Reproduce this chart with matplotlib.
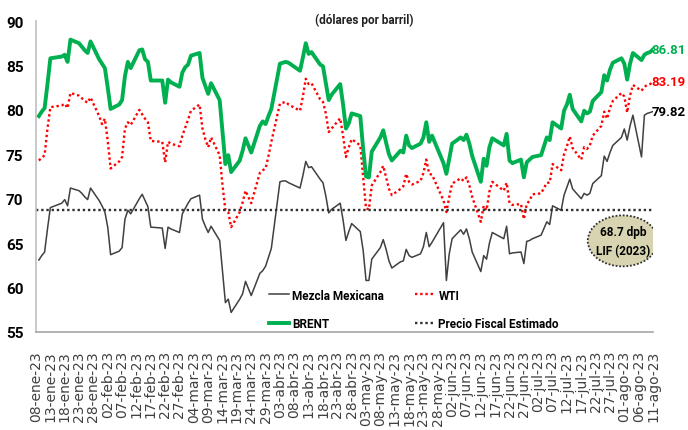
import matplotlib.pyplot as plt
import matplotlib.transforms as mtransforms
from matplotlib.patches import Ellipse
import numpy as np
import pandas as pd

# business days jan 9 - aug 11 2023 (US market holidays removed)
holidays = ["2023-01-16", "2023-02-20", "2023-04-07", "2023-05-29", "2023-06-19", "2023-07-04"]
dates = pd.bdate_range("2023-01-09", "2023-08-11", freq="C", holidays=holidays)

brent = [79.3, 79.8, 80.2, 82.9, 85.8,
         86.0, 86.2, 85.4, 87.9,
         87.5, 87.1, 86.7, 86.4, 87.7,
         85.7, 85.2, 84.7, 82.5, 80.1,
         80.6, 81.1, 83.8, 85.4, 84.7,
         86.7, 86.8, 85.7, 85.4, 83.3,
         83.3, 80.8, 83.4, 83.1,
         82.6, 84.2, 84.8, 85.1, 86.1,
         86.4, 83.6, 82.7, 81.8, 83.0,
         81.1, 77.5, 73.9, 74.9, 73.0,
         74.3, 75.4, 76.8, 76.0, 75.2,
         78.2, 78.7, 78.4, 79.3, 80.1,
         85.2, 85.3, 85.4, 85.3,
         84.4, 85.9, 87.5, 86.3, 86.5,
         85.1, 84.9, 83.0, 81.1, 81.7,
         82.9, 80.6, 77.9, 78.5, 79.6,
         79.3, 75.6, 72.5, 72.4, 75.3,
         76.9, 77.7, 76.3, 75.0, 74.3,
         75.4, 75.2, 77.1, 76.0, 75.7,
         76.2, 76.9, 78.6, 76.4, 77.1,
         74.0, 72.8, 74.5, 76.2,
         76.9, 76.6, 77.2, 76.2, 74.8,
         71.9, 74.5, 73.7, 75.8, 76.8,
         76.0, 77.3, 74.3, 74.0,
         74.4, 72.4, 74.1, 74.4, 74.7,
         74.9, 76.9, 76.6, 78.6,
         77.9, 79.9, 80.6, 81.7, 80.1,
         78.7, 79.9, 79.6, 79.8, 81.0,
         82.0, 83.9, 83.3, 84.5, 85.3,
         85.8, 85.2, 83.4, 85.2, 86.4,
         85.6, 86.2, 86.4, 86.5, 86.81]

wti = [74.3, 74.6, 74.9, 77.9, 80.3,
       80.5, 80.7, 80.2, 81.9,
       81.6, 81.3, 81.0, 80.8, 81.4,
       79.3, 78.4, 79.0, 76.5, 73.4,
       74.2, 74.7, 77.9, 78.6, 78.3,
       80.0, 79.5, 79.0, 78.6, 76.5,
       76.4, 74.1, 76.4, 76.2,
       75.9, 77.1, 78.0, 78.9, 79.9,
       80.6, 77.9, 76.7, 75.8, 76.9,
       74.9, 71.5, 68.7, 68.5, 66.8,
       68.5, 69.6, 70.9, 70.2, 69.5,
       72.9, 73.2, 73.4, 74.8, 76.4,
       80.7, 80.8, 80.9, 80.6,
       79.9, 81.5, 83.5, 82.9, 83.0,
       81.2, 80.9, 79.6, 77.5, 77.9,
       79.05, 77.1, 74.7, 75.8, 76.7,
       76.0, 72.4, 68.9, 68.8, 71.5,
       73.0, 73.7, 72.4, 71.1, 70.4,
       71.1, 71.4, 72.8, 71.9, 71.6,
       72.0, 72.9, 74.4, 72.8, 72.7,
       69.8, 68.5, 70.2, 71.7,
       72.3, 72.0, 72.4, 71.5, 70.2,
       67.4, 69.2, 68.7, 70.8, 71.9,
       70.9, 71.8, 69.5, 69.3,
       69.4, 67.7, 69.4, 69.8, 70.5,
       70.6, 71.8, 71.8, 73.9,
       73.2, 75.0, 75.9, 77.0, 75.7,
       74.4, 75.8, 75.6, 76.0, 77.1,
       78.2, 79.8, 79.0, 80.2, 81.0,
       81.9, 81.5, 79.7, 81.6, 82.8,
       82.15, 82.6, 82.8, 82.9, 83.19]

mezcla = [63.1, 63.6, 64.0, 66.6, 69.0,
          69.5, 69.9, 69.2, 71.2,
          70.9, 70.6, 70.2, 69.9, 71.2,
          69.8, 69.2, 68.5, 66.8, 63.7,
          64.1, 64.5, 67.7, 68.7, 68.3,
          70.0, 70.5, 69.8, 69.1, 66.8,
          66.7, 64.4, 66.8, 66.6,
          66.2, 68.3, 68.9, 69.5, 70.0,
          70.4, 67.7, 66.9, 66.2, 66.9,
          65.3, 61.8, 58.3, 58.7, 57.2,
          58.7, 59.3, 60.7, 59.9, 59.1,
          61.6, 61.9, 62.4, 63.4, 64.4,
          71.9, 72.0, 72.0, 71.8,
          71.2, 72.6, 74.2, 73.5, 73.6,
          72.2, 71.8, 70.3, 68.4, 68.8,
          69.5, 67.6, 65.3, 66.3, 67.2,
          66.3, 64.2, 60.8, 60.8, 63.2,
          64.5, 65.4, 64.3, 63.0, 62.2,
          62.9, 63.0, 64.3, 63.6, 63.4,
          63.8, 64.6, 66.2, 64.6, 65.1,
          67.3, 60.8, 63.8, 65.5,
          66.5, 66.0, 66.6, 65.5, 64.0,
          61.8, 63.6, 63.2, 65.0, 66.2,
          65.5, 66.9, 63.8, 63.9,
          64.0, 62.7, 65.2, 65.3, 65.5,
          65.9, 67.4, 67.1, 69.2,
          68.7, 70.4, 71.3, 72.2, 71.1,
          70.0, 70.6, 70.4, 70.6, 71.7,
          72.6, 74.8, 74.2, 75.2, 76.0,
          76.9, 77.85, 76.6, 78.2, 79.4,
          74.7, 79.4, 79.6, 79.7, 79.82]

precio_fiscal = 68.7
meses = ["ene", "feb", "mar", "abr", "may", "jun", "jul", "ago"]

narrow = "Roboto"

fig = plt.figure(figsize=(6.88, 4.31), dpi=100)
ax = fig.add_axes([36/688, 1-333/431, 617/688, 311/431])

l_mez, = ax.plot(dates, mezcla, color="#404040", lw=1.1, label="Mezcla Mexicana")
l_wti, = ax.plot(dates, wti, color="#ff0000", lw=1.7, ls=(0, (1, 1.2)), label="WTI")
l_bre, = ax.plot(dates, brent, color="#00b050", lw=2.8, label="BRENT")
l_fis = ax.axhline(precio_fiscal, color="#303030", lw=1.7, ls=(0, (1, 1.2)), label="Precio Fiscal Estimado")

ax.set_ylim(55, 90)
ax.set_yticks(np.arange(55, 91, 5))
start = pd.Timestamp("2023-01-08")
end = pd.Timestamp("2023-08-11")
ax.set_xlim(start, end)
ticks = pd.date_range(start, end, freq="5D")
ax.set_xticks(ticks)
ax.set_xticklabels([f"{t.day:02d}-{meses[t.month-1]}-{t.year % 100}" for t in ticks],
                   rotation=90, fontsize=10, color="#404040", family="DejaVu Sans")
for lab in ax.get_yticklabels():
    lab.set_family(narrow)
    lab.set_fontweight("bold")
    lab.set_fontsize(11)
ax.tick_params(axis="both", length=0)
ax.tick_params(axis="y", pad=9)
ax.tick_params(axis="x", pad=13)

for s in ["top", "right"]:
    ax.spines[s].set_visible(False)
ax.spines["left"].set_color("#bfbfbf")
ax.spines["bottom"].set_color("#a6a6a6")
ax.spines["left"].set_linewidth(1.2)
ax.spines["bottom"].set_linewidth(1.2)

# end labels, right-aligned to the figure edge
trans = mtransforms.blended_transform_factory(fig.transFigure, ax.transData)
for val, col in [(brent[-1], "#00b050"), (wti[-1], "#ff0000"), (mezcla[-1], "#000000")]:
    ax.text(686/688, val, f"{val:.2f}", transform=trans, va="center", ha="right",
            color=col, fontsize=9.5, fontweight="bold", family=narrow, clip_on=False)

leg = ax.legend([l_mez, l_bre, l_wti, l_fis],
                ["Mezcla Mexicana", "BRENT", "WTI", "Precio Fiscal Estimado"],
                ncol=2, loc="upper left", bbox_to_anchor=(258/688, 1-279/431),
                bbox_transform=fig.transFigure, frameon=False, handlelength=1.7,
                handletextpad=0.3, columnspacing=2.6, labelspacing=1.3,
                prop={"family": narrow, "weight": "bold", "size": 8.5})

ell = Ellipse((0.951, 0.293), 0.1135, 0.164, transform=ax.transAxes, facecolor="#d8d3b0",
              edgecolor="#303030", ls=(0, (1, 1)), lw=1.3, zorder=5)
ax.add_patch(ell)
ax.text(0.951, 0.293, "68.7 dpb\nLIF (2023)", transform=ax.transAxes, ha="center", va="center",
        fontsize=8.5, fontweight="bold", family=narrow, linespacing=1.6, zorder=6)

fig.text(364/688, 1-20/431, "(dólares por barril)", ha="center", va="center",
         fontsize=8.5, fontweight="bold", family=narrow, color="#222222")

fig.savefig("out.png", dpi=100)
